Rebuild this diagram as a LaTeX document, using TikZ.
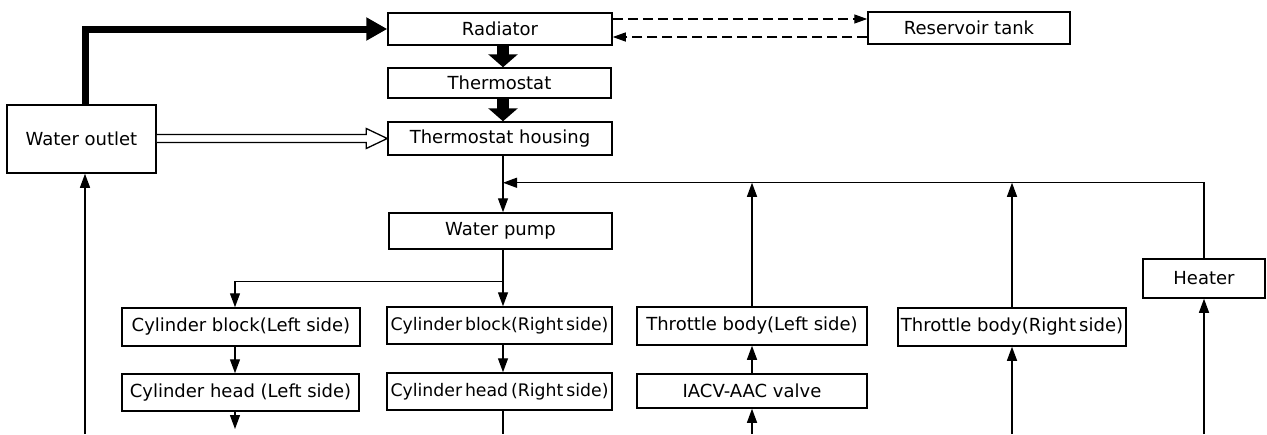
\documentclass[tikz,border=0pt]{standalone}
\usepackage{fontspec}
\setmainfont{DejaVu Sans}
\usetikzlibrary{arrows.meta,calc}
\begin{document}
\begin{tikzpicture}[x=1pt,y=-1pt,
  box/.style={draw, line width=1.5pt, inner sep=0pt, font=\fontsize{18}{21}\selectfont},
  narrowtext/.style={font=\fontsize{17.3}{20}\selectfont},
  flow/.style={line width=1.3pt, -{Triangle[length=14pt,width=10pt]}},
  plain/.style={line width=1.3pt},
  dflow/.style={line width=1.3pt, dash pattern=on 10pt off 5pt, -{Triangle[length=13pt,width=9pt]}},
  bigflow/.style={line width=12pt, -{Triangle[length=13pt,width=29pt]}},
  mainflow/.style={line width=7pt, -{Triangle[length=21pt,width=22pt]}}
]
\useasboundingbox (0,0) rectangle (1267,434);

% nodes
\node[box, minimum width=149pt, minimum height=68pt] (wo) at (81.5,139) {Water outlet};
\node[box, minimum width=224pt, minimum height=32pt] (rad) at (500,29) {Radiator};
\node[box, minimum width=223pt, minimum height=30pt] (th) at (499.5,83) {Thermostat};
\node[box, minimum width=224pt, minimum height=33pt] (thh) at (500,138.5) {Thermostat housing};
\node[box, minimum width=202pt, minimum height=32pt] (res) at (969,28) {Reservoir tank};
\node[box, minimum width=223pt, minimum height=36pt] (wp) at (500.5,231) {Water pump};
\node[box, minimum width=238pt, minimum height=38pt] (cbl) at (241,327) {Cylinder block(Left side)};
\node[box, minimum width=237pt, minimum height=37pt] (chl) at (240.5,392.5) {Cylinder head (Left side)};
\node[box, narrowtext, minimum width=225pt, minimum height=37pt] (cbr) at (499.5,325.5) {Cylinder\,block(Right\,side)};
\node[box, narrowtext, minimum width=225pt, minimum height=37pt] (chr) at (499.5,391.5) {Cylinder\,head\,(Right\,side)};
\node[box, minimum width=230pt, minimum height=38pt] (tbl) at (752,326) {Throttle body(Left side)};
\node[box, minimum width=230pt, minimum height=34pt] (iacv) at (752,391) {IACV-AAC valve};
\node[box, minimum width=228pt, minimum height=38pt] (tbr) at (1012,327) {Throttle body(Right\,side)};
\node[box, minimum width=122pt, minimum height=39pt] (heat) at (1204,278.5) {Heater};

% free ends at the bottom edge
\coordinate (wob) at (85,434);
\coordinate (chlb) at (235,429);
\coordinate (chrb) at (503,434);
\coordinate (iab) at (752,434);
\coordinate (tbrb) at (1012,434);
\coordinate (heb) at (1204,434);

% thick main flow water outlet -> radiator
\draw[mainflow] ($(wo.north)+(3.5,0)$) |- (rad.west);

% big arrows radiator -> thermostat -> housing
\coordinate (c0) at ($(rad.south)+(3,0)$);
\draw[bigflow] (c0) -- (c0 |- th.north);
\draw[bigflow] (c0 |- th.south) -- (c0 |- thh.north);

% open double arrow water outlet -> thermostat housing
\coordinate (ot) at (thh.west);
\draw[line width=1.3pt, line join=miter, fill=white]
  ($(wo.east|-ot)+(0,-4)$) -- ($(ot)+(-21,-4)$) -- ($(ot)+(-21,-10)$) -- (ot)
  -- ($(ot)+(-21,10)$) -- ($(ot)+(-21,4)$) -- ($(wo.east|-ot)+(0,4)$);

% dashed radiator <-> reservoir
\coordinate (d1) at ($(rad.east)+(0,-10)$);
\coordinate (d2) at ($(rad.east)+(0,8)$);
\draw[dflow] (d1) -- (d1 -| res.west);
\draw[dflow] (d2 -| res.west) -- (d2);

% housing -> water pump, return line
\coordinate (c1) at ($(thh.south)+(3,0)$);
\coordinate (j1) at ($(thh.south)+(3,27)$);
\draw[flow] (c1) -- (c1 |- wp.north);
\draw[flow] (heat.north) |- (j1);
\draw[flow] (tbl.north) -- (tbl.north |- j1);
\draw[flow] (tbr.north) -- (tbr.north |- j1);

% water pump -> cylinder blocks
\coordinate (c2) at ($(wp.south)+(2.5,0)$);
\coordinate (br) at ($(c2)+(0,32)$);
\coordinate (bl) at ($(cbl.north)+(-6,0)$);
\draw[flow] (c2) -- (c2 |- cbr.north);
\draw[flow] (br) -| (bl);
\draw[flow] (bl |- cbl.south) -- (bl |- chl.north);
\draw[flow] (bl |- chl.south) -- (chlb);
\draw[flow] (c2 |- cbr.south) -- (c2 |- chr.north);
\draw[plain] (c2 |- chr.south) -- (chrb);

% upward flows from bottom
\draw[flow] (wob) -- (wob |- wo.south);
\draw[flow] (iab) -- (iab |- iacv.south);
\draw[flow] (iacv.north) -- (tbl.south);
\draw[flow] (tbrb) -- (tbrb |- tbr.south);
\draw[flow] (heb) -- (heb |- heat.south);
\end{tikzpicture}
\end{document}
